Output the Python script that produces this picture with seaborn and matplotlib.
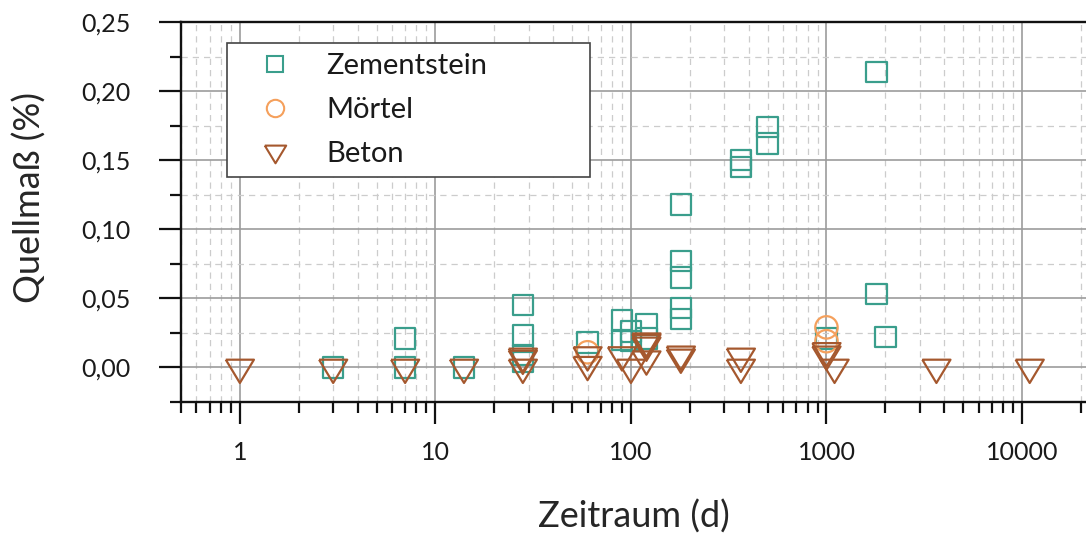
import matplotlib
matplotlib.use("Agg")
import numpy as np
import pandas as pd
import matplotlib.pyplot as plt
import seaborn as sns
from matplotlib.lines import Line2D
from matplotlib.ticker import FixedLocator, FuncFormatter, MultipleLocator, NullFormatter

# Quellmaß-Messwerte (Tage, %)
zement_days = [3, 7, 7, 14, 28, 28, 28, 28, 60, 90, 90, 100, 100, 120, 120,
               180, 180, 180, 180, 180, 365, 365, 500, 500, 1000, 1800, 1800, 2000]
zement_vals = [0.000, 0.021, 0.000, 0.000, 0.045, 0.023, 0.009, 0.004, 0.018,
               0.034, 0.020, 0.026, 0.019, 0.031, 0.021, 0.118, 0.077, 0.065,
               0.043, 0.035, 0.150, 0.145, 0.174, 0.162, 0.021, 0.214, 0.053, 0.022]

moertel_days = [60, 1000, 1000]
moertel_vals = [0.011, 0.029, 0.019]

beton_days = [1, 3, 7, 14, 28, 28, 28, 60, 60, 90, 100, 120, 120, 120, 120,
              180, 180, 365, 365, 1000, 1000, 1100, 3650, 10950]
beton_vals = [0.000, 0.000, 0.000, 0.000, 0.008, 0.0065, 0.000, 0.009, 0.002,
              0.009, 0.000, 0.019, 0.018, 0.016, 0.006, 0.0095, 0.0073, 0.008,
              0.000, 0.012, 0.0095, 0.000, 0.000, 0.000]

series_names = ["Zementstein", "Mörtel", "Beton"]
series_colors = ["#3a9e8c", "#f5a05c", "#a5582e"]

x_major = [1, 10, 100, 1000, 10000]
y_major = [0.00, 0.05, 0.10, 0.15, 0.20, 0.25]

# downward triangle, wider than tall, centred on its centroid
tri_h = 2 * 24 / 29
tri_marker = [(-1, tri_h / 3), (1, tri_h / 3), (0, -2 * tri_h / 3), (-1, tri_h / 3)]

sns.set_theme(style="white")
plt.rcParams["font.family"] = ["Lato", "DejaVu Sans"]
plt.rcParams["text.color"] = "#1a1a1a"

fig = plt.figure(figsize=(10.86, 5.34), dpi=100)
W, H = 1086, 534
ax = fig.add_axes([181 / W, 1 - 402 / H, (W - 181) / W, (402 - 22) / H])

frames = [
    pd.DataFrame({"d": zement_days, "q": zement_vals}),
    pd.DataFrame({"d": moertel_days, "q": moertel_vals}),
    pd.DataFrame({"d": beton_days, "q": beton_vals}),
]
markers = ["s", "o", tri_marker]
sizes = [215, 260, 500]

for df, m, s, c in zip(frames, markers, sizes, series_colors):
    sns.scatterplot(data=df, x="d", y="q", marker=m, s=s, ax=ax,
                    facecolor="none", edgecolor=c, linewidth=1.6,
                    zorder=3, legend=False)

ax.set_xscale("log")
ax.set_xlim(0.5, 10 ** ((W - 240) / 195.5))
ax.set_ylim(-0.025, 0.25)

ax.xaxis.set_major_locator(FixedLocator(x_major))
ax.xaxis.set_major_formatter(FuncFormatter(lambda v, p: f"{int(round(v))}"))
minor_x = [k * 10 ** e for e in range(-1, 5) for k in range(2, 10)]
ax.xaxis.set_minor_locator(FixedLocator([v for v in minor_x if v >= 0.5]))
ax.xaxis.set_minor_formatter(NullFormatter())

ax.yaxis.set_major_locator(FixedLocator(y_major))
ax.yaxis.set_major_formatter(FuncFormatter(lambda v, p: f"{v:.2f}".replace(".", ",")))
ax.yaxis.set_minor_locator(MultipleLocator(0.025))

ax.grid(which="major", color="#9c9c9c", linewidth=1.2, linestyle="-", zorder=0)
ax.grid(which="minor", color="#cccccc", linewidth=0.9, linestyle=(0, (5, 4)), zorder=0)
ax.set_axisbelow(True)

for side in ["left", "bottom", "top"]:
    ax.spines[side].set_color("#111111")
    ax.spines[side].set_linewidth(1.7)
ax.spines["right"].set_visible(False)

ax.tick_params(which="both", bottom=True, left=True, top=False, right=False)
ax.tick_params(which="major", direction="out", length=16, width=1.6, color="#111111",
               labelsize=18, labelcolor="#1a1a1a")
ax.tick_params(which="minor", direction="out", length=8, width=1.6, color="#111111")
ax.tick_params(axis="y", which="major", pad=20)
ax.tick_params(axis="x", which="major", pad=12)

ax.set_xlabel("Zeitraum (d)", fontsize=26, labelpad=26)
ax.set_ylabel("Quellmaß (%)", fontsize=26, labelpad=25)
ax.yaxis.label.set_y(0.537)

handles = [
    Line2D([], [], linestyle="none", marker="s", markersize=12, markerfacecolor="none",
           markeredgecolor=series_colors[0], markeredgewidth=1.5),
    Line2D([], [], linestyle="none", marker="o", markersize=12.5, markerfacecolor="none",
           markeredgecolor=series_colors[1], markeredgewidth=1.5),
    Line2D([], [], linestyle="none", marker=tri_marker, markersize=17, markerfacecolor="none",
           markeredgecolor=series_colors[2], markeredgewidth=1.5),
]
leg = ax.legend(handles, series_names, loc="upper left",
                bbox_to_anchor=(46 / 905, 0.605, 363 / 905, 1 - 0.605 - 21 / 380),
                mode="expand", fontsize=21, frameon=True, fancybox=False,
                framealpha=1, edgecolor="#444444", borderpad=0.36,
                labelspacing=0.6, handlelength=2.6, handletextpad=0.45,
                borderaxespad=0)
leg.get_frame().set_linewidth(1.2)
leg.set_zorder(5)

fig.savefig("out.png", dpi=100, facecolor="white")
